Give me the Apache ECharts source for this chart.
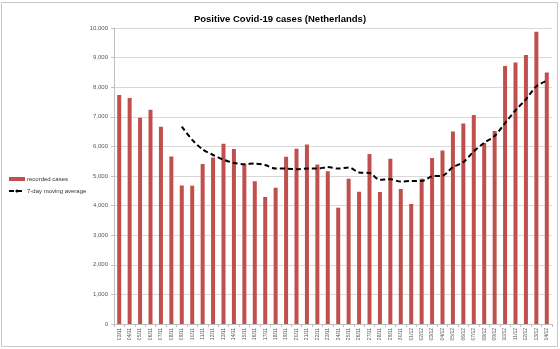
<!DOCTYPE html>
<html>
<head>
<meta charset="utf-8">
<script src="https://cdn.jsdelivr.net/npm/echarts@6/dist/echarts.min.js"></script>
<style>html,body{margin:0;padding:0;background:#fff}#c{width:560px;height:349px}</style>
</head>
<body>
<div id="c"></div>
<script>
const categories = ['03/11','04/11','05/11','06/11','07/11','08/11','09/11','10/11','11/11','12/11','13/11','14/11','15/11','16/11','17/11','18/11','19/11','20/11','21/11','22/11','23/11','24/11','25/11','26/11','27/11','28/11','29/11','30/11','01/12','02/12','03/12','04/12','05/12','06/12','07/12','08/12','09/12','10/12','11/12','12/12','13/12','14/12'];
const recordedCases = [7740,7635,6970,7240,6665,5662,4683,4672,5405,5628,6091,5912,5405,4825,4290,4605,5652,5922,6068,5392,5160,3929,4905,4470,5743,4459,5584,4565,4054,4905,5608,5865,6507,6777,7061,6115,6520,8716,8838,9088,9875,8500];
const movingAverage = [null,null,null,null,null,null,6670,6220,5900,5710,5550,5440,5400,5420,5370,5250,5250,5230,5250,5250,5300,5250,5290,5120,5100,4870,4890,4810,4830,4830,4990,5010,5300,5470,5830,6120,6350,6790,7220,7590,8030,8220];
const yTicks = {min: 0, max: 10000, interval: 1000};

const chart = echarts.init(document.getElementById('c'));
const font = 'Liberation Sans';
chart.setOption({
  animation: false,
  textStyle: {fontFamily: font},
  title: {
    text: 'Positive Covid-19 cases (Netherlands)',
    left: 'center', top: 9,
    textStyle: {fontSize: 9.5, fontWeight: 'bold', color: '#000', fontFamily: font}
  },
  legend: {
    orient: 'vertical', left: 8, top: 175, padding: 0,
    itemWidth: 16, itemHeight: 4, itemGap: 4,
    textStyle: {fontSize: 6, color: '#333', lineHeight: 8, fontFamily: font, padding: [0, 0, 0, -3]},
    data: [
      {name: 'recorded cases', icon: 'rect'},
      {name: '7-day moving average'}
    ]
  },
  graphic: [{
    type: 'rect', shape: {x: 1.5, y: 2.5, width: 556, height: 344},
    style: {fill: 'none', stroke: '#c8c8c8', lineWidth: 1}, silent: true
  }],
  grid: {left: 114, right: 8, top: 28, bottom: 25, containLabel: false},
  xAxis: {
    type: 'category', data: categories,
    axisLine: {lineStyle: {color: '#bfbfbf'}},
    axisTick: {show: true, length: 3, lineStyle: {color: '#bfbfbf'}},
    axisLabel: {rotate: 90, fontSize: 5, color: '#595959', margin: 4, interval: 0, fontFamily: font}
  },
  yAxis: {
    type: 'value', min: yTicks.min, max: yTicks.max, interval: yTicks.interval,
    axisLine: {show: true, lineStyle: {color: '#bfbfbf'}},
    axisTick: {show: true, length: 3, lineStyle: {color: '#bfbfbf'}},
    splitLine: {lineStyle: {color: '#d9d9d9', width: 1}},
    axisLabel: {fontSize: 6, color: '#595959', margin: 6, fontFamily: font,
      formatter: v => v.toLocaleString('en-US')}
  },
  series: [
    {
      name: 'recorded cases', type: 'bar', data: recordedCases,
      barWidth: 4, itemStyle: {color: '#C0504D'}
    },
    {
      name: '7-day moving average', type: 'line', data: movingAverage,
      smooth: 0.3, symbol: 'none', connectNulls: false,
      itemStyle: {color: '#000'},
      lineStyle: {color: '#000', width: 2, type: [5, 3]}
    }
  ]
});
</script>
</body>
</html>
